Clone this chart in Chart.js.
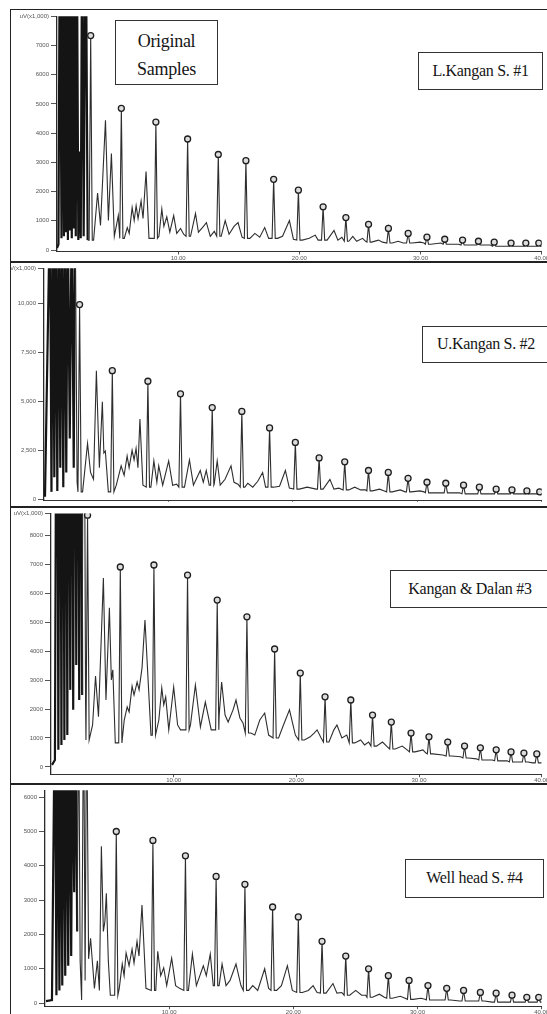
<!DOCTYPE html>
<html><head><meta charset="utf-8">
<script src="https://cdn.jsdelivr.net/npm/chart.js@4.4.1/dist/chart.umd.min.js"></script>
<style>
html,body{margin:0;padding:0;background:#fff;width:547px;height:1014px;overflow:hidden;position:relative;}
.vline{position:absolute;left:9.5px;top:8.5px;width:1.6px;height:1010px;background:#222;}
.hline{position:absolute;left:9.5px;width:540px;height:1.8px;background:#222;}
.panel{position:absolute;left:11px;}
.panel canvas{filter:blur(0.35px);}
.box{position:absolute;background:#fff;border:1.3px solid #333;box-sizing:border-box;font-family:"Liberation Serif","DejaVu Serif",serif;color:#151515;text-align:center;white-space:nowrap;letter-spacing:-0.3px;}
</style></head>
<body>
<div class="vline"></div>
<div class="hline" style="top:8.5px"></div>
<div class="hline" style="top:261px"></div>
<div class="hline" style="top:506px"></div>
<div class="hline" style="top:783px"></div>
<div class="panel" style="top:11px"><canvas id="c1" width="536" height="250"></canvas></div>
<div class="panel" style="top:263px"><canvas id="c2" width="536" height="243"></canvas></div>
<div class="panel" style="top:508px"><canvas id="c3" width="536" height="275"></canvas></div>
<div class="panel" style="top:785px"><canvas id="c4" width="536" height="229"></canvas></div>

<div class="box" style="left:115px;top:20px;width:103px;height:65px;font-size:18px;line-height:28px;padding-top:6px;">Original<br>Samples</div>
<div class="box" style="left:418px;top:52px;width:125px;height:38px;font-size:16px;line-height:35px;">L.Kangan S. #1</div>
<div class="box" style="left:422px;top:326px;width:128px;height:37px;font-size:16px;line-height:34px;">U.Kangan S. #2</div>
<div class="box" style="left:390px;top:570px;width:160px;height:38px;font-size:16px;line-height:35px;">Kangan &amp; Dalan #3</div>
<div class="box" style="left:405px;top:859px;width:139px;height:39px;font-size:16px;line-height:36px;">Well head S. #4</div>

<script>
// ---------- shared x axis (retention time, min) ----------
const xTickVals = [10, 20, 30, 40];
const xTickLabels = ["10.00", "20.00", "30.00", "40.00"];
const peakHalfWidth = 0.13; // min, half base width of the labelled n-alkane spikes
const solventEnd = 2.6;     // min, end of the off-scale solvent front

// ---------- Panel 1 : L.Kangan S. #1 ----------
const p1PeakT = [2.78,5.31,8.16,10.78,13.31,15.59,17.88,19.92,21.96,23.84,25.71,27.35,28.98,30.53,32.00,33.47,34.78,36.08,37.47,38.69,39.76];
const p1PeakV = [7340,4850,4380,3800,3270,3060,2420,2050,1480,1110,880,740,570,440,370,340,300,270,240,240,240];
const p1BaseT = [0,.12,.24,.37,.49,.57,.65,.73,.82,.90,.98,1.06,1.14,1.22,1.31,1.39,1.47,1.55,1.63,1.76,1.88,1.96,2.08,2.20,2.37,2.53,
  3.02,3.35,3.59,4.00,4.24,4.49,4.73,5.06,
  5.55,5.80,5.96,6.20,6.37,6.53,6.69,6.94,7.10,7.35,7.59,7.84,
  8.41,8.65,8.82,9.06,9.31,9.63,9.88,10.20,10.45,
  11.02,11.43,11.67,12.00,12.33,12.65,12.98,
  13.55,13.88,14.20,14.61,14.94,15.27,
  15.92,16.33,16.73,17.14,17.47,
  18.20,18.61,19.18,19.51,
  20.24,20.82,21.31,21.55,
  22.29,22.86,23.18,23.51,
  24.08,24.41,24.73,25.22,25.47,
  25.96,26.53,26.86,
  27.67,28.16,28.57,
  29.31,29.96,30.29,
  30.86,31.67,
  32.33,33.14,
  33.80,34.45,
  35.10,35.76,
  36.41,37.14,
  37.80,38.37,
  39.02,39.43,
  40];
const p1BaseV = [70,200,12000,400,12000,470,12000,610,12000,340,12000,670,12000,400,12000,740,12000,470,12000,340,3370,400,12000,470,12000,340,
  340,1950,840,4440,1010,3300,470,1180,
  400,770,570,1450,1010,1520,1080,1680,1080,2690,400,400,
  470,1410,810,1140,610,1180,570,740,540,
  470,1250,610,770,940,470,640,
  470,1010,540,810,940,440,
  400,570,440,770,400,
  400,470,1010,370,
  340,400,510,340,
  340,670,340,440,
  300,470,300,400,300,
  270,340,270,
  240,300,240,
  240,270,240,
  200,240,
  200,200,
  170,170,
  170,170,
  130,130,
  130,130,
  130,130,
  130];
const p1YTicks = [0,1000,2000,3000,4000,5000,6000,7000,8000];
const p1YLabels = ["0","1000","2000","3000","4000","5000","6000","7000","uV(x1,000)"];

// ---------- Panel 2 : U.Kangan S. #2 ----------
const p2PeakT = [2.86,5.49,8.35,10.97,13.52,15.90,18.13,20.20,22.11,24.17,26.08,27.67,29.26,30.78,32.29,33.72,34.99,36.34,37.61,38.81,39.84];
const p2PeakV = [9950,6580,6040,5400,4700,4500,3660,2920,2130,1930,1490,1390,1090,890,840,740,640,540,500,450,400];
const p2BaseT = [.08,.48,.60,.72,.83,.95,1.07,1.19,1.31,1.43,1.55,1.67,1.79,1.91,2.07,2.23,2.39,2.50,2.66,
  3.10,3.50,3.74,3.98,4.21,4.45,4.69,4.81,4.93,5.17,
  5.81,6.20,6.44,6.68,6.84,7.08,7.24,7.40,7.55,7.71,7.95,
  8.59,8.83,9.07,9.22,9.54,10.02,10.34,10.66,
  11.29,11.69,12.01,12.56,12.80,13.04,13.28,
  13.68,13.92,14.16,14.55,15.03,15.27,15.59,
  16.14,16.38,16.78,17.18,17.57,17.81,
  18.45,18.93,19.40,19.72,
  20.52,21.15,21.87,
  22.43,22.98,23.30,23.70,
  24.49,24.97,25.45,25.84,
  26.40,26.96,27.36,
  27.99,28.63,29.03,
  29.50,30.22,30.54,
  31.09,31.97,
  32.60,33.40,
  34.04,34.67,
  35.31,36.02,
  36.66,37.30,
  37.93,38.49,
  39.13,39.52,
  40];
const p2BaseV = [150,15000,400,15000,1140,15000,450,15000,1630,15000,640,15000,1390,15000,3120,15000,1630,15000,890,
  400,2870,1390,1040,6580,1630,5000,2380,2480,400,
  740,1730,1240,2230,1630,2520,2030,2620,1630,4110,740,
  640,1980,890,1730,740,1980,740,790,
  640,2030,740,1490,890,1490,740,
  790,1980,740,1040,1730,890,790,
  640,840,640,940,1390,640,
  640,690,1490,590,
  540,640,540,
  540,1040,540,590,
  500,640,500,500,
  450,540,450,
  400,500,400,
  400,450,400,
  350,350,
  350,350,
  300,300,
  300,300,
  300,300,
  300,300,
  300,300,
  300];
const p2YTicks = [0,2500,5000,7500,10000,11800];
const p2YLabels = ["0","2,500","5,000","7,500","10,000","uV(x1,000)"];

// ---------- Panel 3 : Kangan & Dalan #3 ----------
const p3PeakT = [2.98,5.65,8.39,11.13,13.55,15.97,18.23,20.32,22.34,24.44,26.21,27.74,29.35,30.81,32.34,33.71,35.00,36.29,37.50,38.55,39.60];
const p3PeakV = [8690,6900,6970,6620,5760,5180,4070,3240,2420,2310,1790,1550,1170,1040,860,720,660,590,520,480,450];
const p3BaseT = [.08,.32,.48,.60,.73,.85,.97,1.09,1.21,1.33,1.45,1.57,1.69,1.81,1.94,2.06,2.18,2.30,2.42,2.54,2.66,2.82,
  3.15,3.39,3.63,3.87,4.27,4.48,4.76,4.92,5.04,5.24,
  5.97,6.21,6.37,6.61,6.77,7.02,7.18,7.42,7.66,8.15,
  8.79,9.03,9.19,9.35,9.60,10.00,10.32,10.56,
  11.37,11.77,12.18,12.58,13.06,
  13.71,13.91,14.19,14.44,14.84,15.08,15.40,15.65,
  16.29,16.61,17.02,17.42,17.74,
  18.55,18.95,19.44,19.92,
  20.65,21.13,21.45,21.69,22.02,
  22.66,23.06,23.31,23.71,24.11,
  24.76,25.24,25.56,25.89,
  26.53,27.02,27.42,
  28.06,28.63,29.03,
  29.68,30.32,30.56,
  31.13,31.94,
  32.66,33.39,
  34.03,34.68,
  35.32,35.97,
  36.61,37.18,
  37.82,38.23,
  38.87,39.27,
  39.84,40];
const p3BaseV = [70,240,20000,590,20000,760,20000,930,20000,1100,20000,2660,20000,1970,20000,3520,20000,2310,20000,2480,20000,2140,
  930,1450,3140,1730,6520,2310,5490,3000,3350,830,
  1620,2070,1900,2790,2480,2930,2660,3420,5070,1100,
  1620,2730,2140,2420,1280,2760,1450,1280,
  1450,2830,1380,2240,1280,
  1790,2930,1790,1550,1970,2310,1690,1520,
  1170,1100,1620,1860,1100,
  1000,1450,1970,1100,
  930,1040,1170,1280,1000,
  860,1280,1450,1000,1100,
  830,930,760,860,
  720,860,690,
  620,720,590,
  520,590,480,
  450,410,
  380,350,
  310,280,
  240,240,
  210,210,
  170,170,
  170,140,
  140,140];
const p3YTicks = [0,1000,2000,3000,4000,5000,6000,7000,8000,8750];
const p3YLabels = ["0","1000","2000","3000","4000","5000","6000","7000","8000","uV(x1,000)"];

// ---------- Panel 4 : Well head S. #4 ----------
const p4PeakT = [5.74,8.69,11.31,13.78,16.10,18.33,20.40,22.31,24.22,26.06,27.65,29.32,30.84,32.35,33.71,35.06,36.33,37.61,38.80,39.76];
const p4PeakV = [5000,4740,4290,3690,3460,2800,2510,1800,1370,1000,800,660,510,430,370,310,290,230,170,170];
const p4BaseT = [.08,.56,.80,.92,1.04,1.16,1.27,1.39,1.51,1.63,1.75,1.87,1.99,2.11,2.23,2.35,2.47,2.59,2.71,2.83,2.95,3.11,3.23,3.35,3.51,3.67,3.98,4.22,4.38,4.54,4.70,4.82,4.94,5.10,5.26,
  5.98,6.22,6.37,6.53,6.77,7.01,7.17,7.41,7.57,7.81,8.13,
  8.92,9.08,9.32,9.56,9.80,10.20,10.52,10.84,
  11.55,11.87,12.19,12.75,12.99,13.31,13.55,
  14.02,14.26,14.58,14.90,15.38,15.78,
  16.41,16.73,17.13,17.69,18.01,
  18.65,19.04,19.52,19.92,
  20.72,21.20,21.59,21.91,
  22.63,23.19,23.51,23.90,
  24.54,25.02,25.50,25.82,
  26.37,26.93,27.33,
  27.97,28.61,29.00,
  29.64,30.28,30.60,
  31.16,32.03,
  32.67,33.39,
  34.02,34.74,
  35.38,36.02,
  36.65,37.29,
  37.93,38.49,
  39.12,39.44,
  40];
const p4BaseV = [60,90,9000,230,9000,370,9000,510,9000,800,9000,1090,9000,1370,9000,3230,9000,2090,9000,1230,90,9000,660,9000,1290,1890,430,1230,370,4570,2090,2370,3200,1230,230,
  430,1140,800,1460,1090,1570,1170,1800,1370,2860,430,
  370,1510,800,1030,510,1310,510,430,
  370,1430,510,1090,800,1430,510,
  510,1140,510,660,1140,510,
  370,510,370,1000,430,
  370,510,1090,370,
  310,370,510,310,
  290,570,290,310,
  230,370,230,230,
  170,260,170,
  140,200,140,
  110,140,110,
  90,90,
  90,60,
  60,60,
  60,30,
  30,30,
  30,30,
  30,30,
  30];
const p4YTicks = [0,1000,2000,3000,4000,5000,6000];
const p4YLabels = ["0","1000","2000","3000","4000","5000","6000"];

// ---------- build ----------
function trace(pt, pv, bt, bv, name) {
  if (pt.length !== pv.length || bt.length !== bv.length) throw new Error(name + " length mismatch " + pt.length + "/" + pv.length + " " + bt.length + "/" + bv.length);
  const base = bt.map((t, i) => ({x: t, y: bv[i]}));
  const pts = base.slice();
  pt.forEach((t, i) => {
    let prev = null, next = null;
    for (const b of base) { if (b.x < t) prev = b; else if (!next) next = b; }
    const foot = Math.min(prev ? prev.y : Infinity, next ? next.y : Infinity);
    if (prev && t - peakHalfWidth > prev.x) pts.push({x: t - peakHalfWidth, y: foot});
    pts.push({x: t, y: pv[i]});
    if (next && t + peakHalfWidth < next.x) pts.push({x: t + peakHalfWidth, y: foot});
  });
  pts.sort((a, b) => a.x - b.x);
  return pts;
}
function marks(pt, pv) { return pt.map((t, i) => ({x: t, y: pv[i]})); }

function makeChart(id, c) {
  return new Chart(document.getElementById(id), {
    type: 'line',
    data: {datasets: [
      {data: trace(c.pt, c.pv, c.bt, c.bv, id), borderColor: '#2e2e2e', borderWidth: 1.1, pointRadius: 0, tension: 0, fill: false, order: 2,
       segment: {borderWidth: ctx => (ctx.p1.parsed.x < solventEnd ? 2.2 : 1.1), borderColor: ctx => (ctx.p1.parsed.x < solventEnd ? '#141414' : '#2e2e2e')}},
      {type: 'scatter', data: marks(c.pt, c.pv), pointRadius: 3, pointStyle: 'circle', borderColor: '#1e1e1e', backgroundColor: '#dcdcdc', borderWidth: 1.3, order: 1}
    ]},
    options: {
      responsive: false, animation: false, devicePixelRatio: 1, events: [],
      layout: {padding: {top: c.padTop, left: 0, right: 0, bottom: 0}},
      plugins: {legend: {display: false}, tooltip: {enabled: false}},
      scales: {
        x: {type: 'linear', min: 0, max: 40,
          afterBuildTicks: s => { s.ticks = xTickVals.map(v => ({value: v})); },
          afterFit: s => { s.height = c.xH; s.paddingLeft = 0; s.paddingRight = 0; },
          ticks: {display: c.showX, callback: (v, i) => xTickLabels[i], font: {size: 6, family: 'Liberation Sans'}, color: '#555', maxRotation: 0, padding: 0, autoSkip: false},
          grid: {drawOnChartArea: false, drawTicks: true, tickLength: c.showX ? 3 : 1, color: '#555'},
          border: {color: '#333', width: 1}},
        y: {type: 'linear', min: c.yMin, max: c.yMax,
          afterBuildTicks: s => { s.ticks = c.yTicks.map(v => ({value: v})); },
          afterFit: s => { s.width = c.axisX - 11; s.paddingTop = 0; s.paddingBottom = 0; },
          ticks: {callback: (v, i) => c.yLabels[i], font: {size: 6, family: 'Liberation Sans'}, color: '#555', padding: 2, autoSkip: false},
          grid: {drawOnChartArea: false, tickLength: 6, color: '#555'},
          border: {color: '#2a2a2a', width: 1.3}}
      }
    }
  });
}

makeChart('c1', {pt: p1PeakT, pv: p1PeakV, bt: p1BaseT, bv: p1BaseV, yMin: -50, yMax: 8000, yTicks: p1YTicks, yLabels: p1YLabels, axisX: 57, padTop: 1.4, xH: 9.5, showX: true});
makeChart('c2', {pt: p2PeakT, pv: p2PeakV, bt: p2BaseT, bv: p2BaseV, yMin: -50, yMax: 11800, yTicks: p2YTicks, yLabels: p2YLabels, axisX: 44, padTop: 1.6, xH: 2, showX: false});
makeChart('c3', {pt: p3PeakT, pv: p3PeakV, bt: p3BaseT, bv: p3BaseV, yMin: -250, yMax: 8750, yTicks: p3YTicks, yLabels: p3YLabels, axisX: 51, padTop: 5.4, xH: 8.8, showX: true});
makeChart('c4', {pt: p4PeakT, pv: p4PeakV, bt: p4BaseT, bv: p4BaseV, yMin: -90, yMax: 6200, yTicks: p4YTicks, yLabels: p4YLabels, axisX: 45, padTop: 1, xH: 7.8, showX: true});
</script>
</body></html>
